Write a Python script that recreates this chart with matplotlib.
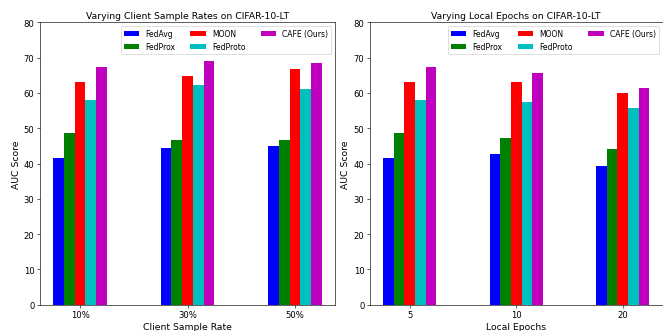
import matplotlib
matplotlib.use("Agg")
import matplotlib.pyplot as plt
import numpy as np

methods = ["FedAvg", "FedProx", "MOON", "FedProto", "CAFE (Ours)"]
colors = ["b", "g", "r", "c", "m"]

rate_labels = ["10%", "30%", "50%"]
rate_fedavg = [41.7, 44.5, 45.1]
rate_fedprox = [48.5, 46.8, 46.8]
rate_moon = [63.0, 64.7, 66.7]
rate_fedproto = [57.9, 62.1, 61.0]
rate_cafe = [67.2, 68.9, 68.4]

epoch_labels = ["5", "10", "20"]
epoch_fedavg = [41.7, 42.6, 39.4]
epoch_fedprox = [48.5, 47.1, 44.0]
epoch_moon = [63.0, 63.0, 60.1]
epoch_fedproto = [57.9, 57.3, 55.6]
epoch_cafe = [67.2, 65.5, 61.3]

fig = plt.figure(figsize=(12, 6), dpi=55.33)
ax1 = fig.add_axes([0.060, 0.079, 0.445, 0.851])
ax2 = fig.add_axes([0.557, 0.079, 0.441, 0.851])

def draw(ax, labels, series, title, xlabel):
    x = np.arange(len(labels))
    w = 0.1
    for i, (vals, name, c) in enumerate(zip(series, methods, colors)):
        ax.bar(x + (i - 2) * w, vals, w, color=c, label=name)
    ax.set_xticks(x)
    ax.set_xticklabels(labels)
    ax.set_ylim(0, 80)
    ax.set_yticks(range(0, 81, 10))
    ax.set_title(title, fontsize=12)
    ax.set_xlabel(xlabel, fontsize=12)
    ax.set_ylabel("AUC Score", fontsize=12)
    ax.tick_params(labelsize=11)
    ax.legend(ncol=3, loc="upper right", fontsize=10)

draw(ax1, rate_labels, [rate_fedavg, rate_fedprox, rate_moon, rate_fedproto, rate_cafe],
     "Varying Client Sample Rates on CIFAR-10-LT", "Client Sample Rate")
draw(ax2, epoch_labels, [epoch_fedavg, epoch_fedprox, epoch_moon, epoch_fedproto, epoch_cafe],
     "Varying Local Epochs on CIFAR-10-LT", "Local Epochs")

fig.savefig("out.png", dpi=55.33)
